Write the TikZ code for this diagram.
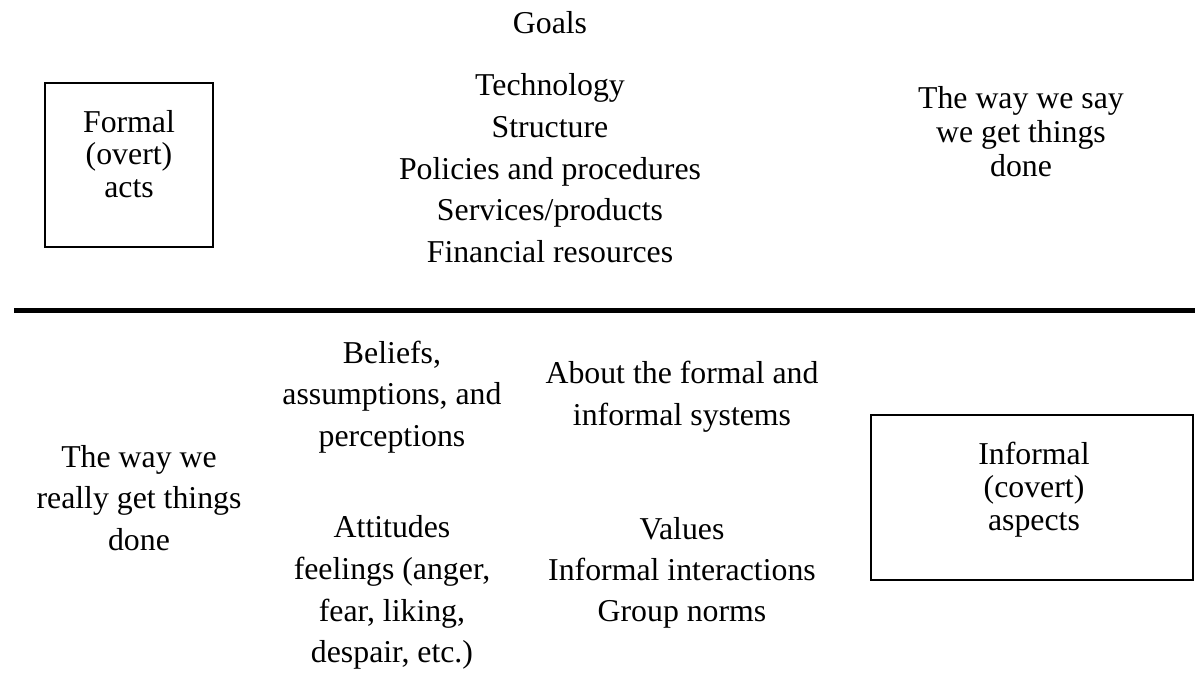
\documentclass[tikz,border=0pt]{standalone}
\usepackage{fontspec}
\setmainfont{Liberation Serif}
\begin{document}
\begin{tikzpicture}[x=1pt,y=-1pt,
  every node/.style={inner sep=0pt,outer sep=0pt},
  % text block placed by its first baseline; #1 = line spacing
  txt/.style={align=center,anchor=north,
    font=\fontsize{31.8}{#1}\selectfont,yshift={0.7*#1pt},
    execute at begin node=\strut},
  frame/.style={draw,line width=2pt},
  divider/.style={line width=5pt}]
\useasboundingbox (0,0) rectangle (1195,681);

% upper half: the formal side
\node[txt=41.7] (goals) at (550,33) {Goals};
\node[frame,minimum width=168pt,minimum height=164pt] (formalbox) at (129,165) {};
\node[txt=32.7] (formal) at (129,133) {Formal\\(overt)\\acts};
\node[txt=41.7] (elements) at (550,103)
  {Technology\\Structure\\Policies and procedures\\Services/products\\Financial resources};
\node[txt=34] (saydone) at (1021,110) {The way we say\\we get things\\done};

% dividing line between the two halves
\coordinate (divL) at (14,310.5);
\coordinate (divR) at (1195,310.5);
\draw[divider] (divL) -- (divR);

% lower half: the informal side
\node[txt=41.5] (reallydone) at (139,474) {The way we\\really get things\\done};
\node[txt=41.5] (beliefs) at (392,370) {Beliefs,\\assumptions, and\\perceptions};
\node[txt=42] (about) at (682,391) {About the formal and\\informal systems};
\node[txt=41.7] (attitudes) at (392,545) {Attitudes\\feelings (anger,\\fear, liking,\\despair, etc.)};
\node[txt=41] (values) at (682,546) {Values\\Informal interactions\\Group norms};
\node[frame,minimum width=322pt,minimum height=165pt] (informalbox) at (1032,497.5) {};
\node[txt=33] (informal) at (1034,465) {Informal\\(covert)\\aspects};
\end{tikzpicture}
\end{document}
